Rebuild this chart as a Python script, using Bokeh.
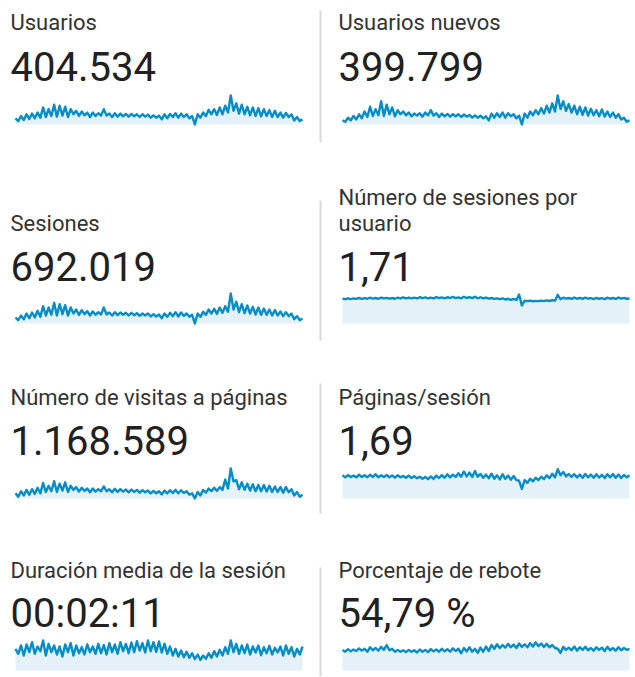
from bokeh.plotting import figure
from bokeh.models import Range1d
from bokeh.core.properties import value
from bokeh.embed import file_html
from bokeh.resources import INLINE

# ---------------- data ----------------
usuarios = [856, 720, 975, 771, 1060, 822, 1094, 856, 1145, 890, 1400, 924, 1315, 975, 1536, 941,
            1485, 992, 1434, 924, 1315, 1060, 1230, 975, 1196, 1009, 1145, 924, 1145, 975, 1111, 992,
            1315, 992, 1094, 924, 1111, 941, 1094, 958, 1077, 941, 1077, 958, 1060, 924, 1060, 941,
            1043, 890, 1009, 890, 992, 805, 1060, 856, 1077, 924, 1111, 890, 1094, 924, 1060, 856,
            975, 550, 1060, 890, 1145, 975, 1281, 1060, 1315, 1026, 1400, 1060, 1485, 1145, 1995, 1230,
            1604, 1094, 1536, 1060, 1434, 1009, 1400, 975, 1366, 958, 1315, 975, 1264, 924, 1230, 924,
            1145, 890, 1128, 924, 1060, 754, 924, 720, 805]

usuarios_nuevos = [746, 678, 884, 746, 970, 798, 1056, 850, 1194, 918, 1434, 970, 1314, 1004, 1710, 970,
                   1538, 1056, 1400, 953, 1262, 1056, 1194, 1004, 1142, 953, 1090, 987, 1108, 936, 1142, 1004,
                   1262, 987, 1108, 918, 1090, 953, 1073, 936, 1056, 953, 1056, 918, 1039, 936, 1022, 884,
                   1004, 884, 987, 850, 953, 746, 1090, 884, 1108, 918, 1142, 884, 1108, 953, 1056, 850,
                   987, 540, 1090, 884, 1194, 1004, 1262, 1056, 1366, 1090, 1486, 1142, 1606, 1194, 2000, 1314,
                   1710, 1228, 1572, 1142, 1486, 1056, 1434, 1022, 1400, 987, 1331, 1004, 1262, 953, 1297, 936,
                   1194, 918, 1142, 884, 1056, 798, 884, 678, 746]

sesiones = [1581, 1367, 1741, 1447, 1901, 1527, 1981, 1581, 2115, 1634, 2488, 1741, 2382, 1794, 2755, 1741,
            2649, 1848, 2569, 1741, 2382, 1901, 2221, 1794, 2168, 1848, 2088, 1741, 2061, 1794, 2008, 1821,
            2382, 1821, 1981, 1741, 2008, 1768, 1981, 1794, 1954, 1741, 1954, 1768, 1928, 1714, 1901, 1741,
            1901, 1661, 1848, 1661, 1821, 1527, 1901, 1634, 1954, 1687, 2008, 1661, 1981, 1714, 1901, 1634,
            1794, 1100, 1901, 1634, 2035, 1794, 2221, 1901, 2275, 1874, 2382, 1954, 2488, 2035, 3503, 2221,
            2836, 2008, 2649, 1928, 2542, 1901, 2435, 1821, 2382, 1794, 2302, 1794, 2221, 1741, 2168, 1741,
            2061, 1687, 2008, 1687, 1901, 1447, 1687, 1367, 1501]

sesiones_por_usuario = [1.66, 1.62, 1.68, 1.63, 1.67, 1.64, 1.70, 1.64, 1.69, 1.65, 1.72, 1.66, 1.70, 1.65,
                        1.73, 1.67, 1.71, 1.66, 1.70, 1.65, 1.72, 1.67, 1.74, 1.68, 1.73, 1.67, 1.72, 1.68,
                        1.75, 1.69, 1.74, 1.68, 1.73, 1.67, 1.76, 1.69, 1.74, 1.68, 1.75, 1.70, 1.77, 1.69,
                        1.74, 1.68, 1.78, 1.70, 1.76, 1.69, 1.78, 1.68, 1.75, 1.67, 1.73, 1.66, 1.70, 1.64,
                        1.68, 1.62, 1.67, 1.60, 1.65, 1.58, 1.64, 1.57, 1.93, 1.20, 1.52, 1.49, 1.52, 1.48,
                        1.51, 1.49, 1.53, 1.49, 1.54, 1.50, 1.56, 1.52, 1.91, 1.62, 1.72, 1.66, 1.70, 1.64,
                        1.73, 1.65, 1.71, 1.64, 1.72, 1.66, 1.70, 1.63, 1.71, 1.65, 1.69, 1.63, 1.72, 1.65,
                        1.70, 1.64, 1.73, 1.66, 1.71, 1.65, 1.67]

visitas_paginas = [2990, 2440, 3320, 2660, 3540, 2770, 3650, 2880, 3870, 2990, 4640, 3210, 4200, 3320, 4915, 3210,
                   4530, 3430, 4750, 3210, 4200, 3540, 3980, 3265, 3870, 3375, 3760, 3155, 3760, 3265, 3650, 3320,
                   4090, 3320, 3650, 3155, 3705, 3210, 3650, 3265, 3595, 3155, 3595, 3210, 3540, 3100, 3485, 3155,
                   3430, 2990, 3375, 2990, 3320, 2825, 3430, 2990, 3485, 3045, 3540, 2990, 3485, 3045, 3320, 2770,
                   2990, 2165, 3210, 2660, 3540, 3100, 3760, 3320, 3870, 3375, 3980, 3540, 5190, 3760, 6950, 4915,
                   5080, 3650, 4750, 3540, 4530, 3430, 4420, 3320, 4310, 3320, 4310, 3265, 4200, 3210, 4090, 3210,
                   3980, 3100, 3980, 3155, 3650, 2660, 3210, 2440, 2770]

paginas_sesion = [1.70, 1.55, 1.72, 1.58, 1.68, 1.55, 1.75, 1.57, 1.70, 1.56, 1.74, 1.58, 1.78, 1.55,
                  1.70, 1.57, 1.72, 1.56, 1.68, 1.54, 1.70, 1.55, 1.66, 1.52, 1.68, 1.50, 1.64, 1.48,
                  1.60, 1.45, 1.58, 1.42, 1.62, 1.44, 1.68, 1.50, 1.72, 1.52, 1.78, 1.55, 1.75, 1.58,
                  1.85, 1.60, 1.98, 1.62, 1.90, 1.58, 2.02, 1.60, 1.80, 1.52, 1.75, 1.48, 1.82, 1.45,
                  1.70, 1.40, 1.78, 1.44, 1.68, 1.38, 1.65, 1.35, 1.30, 0.70, 1.35, 1.15, 1.45, 1.25,
                  1.52, 1.35, 1.60, 1.42, 1.70, 1.50, 1.82, 1.55, 2.15, 1.70, 1.95, 1.62, 1.80, 1.58,
                  1.78, 1.55, 1.76, 1.52, 1.80, 1.55, 1.75, 1.52, 1.78, 1.54, 1.74, 1.50, 1.78, 1.55,
                  1.80, 1.52, 1.76, 1.50, 1.72, 1.56, 1.70]

duracion_media = [130, 100, 150, 90, 156, 110, 170, 100, 144, 116, 180, 90, 160, 110, 150, 96,
                  144, 84, 156, 110, 164, 90, 150, 104, 140, 96, 156, 110, 144, 100, 160, 104,
                  152, 96, 164, 110, 156, 100, 170, 116, 160, 104, 168, 110, 176, 120, 164, 108,
                  180, 116, 170, 112, 174, 108, 160, 100, 144, 90, 130, 84, 120, 80, 112, 76,
                  104, 68, 96, 64, 90, 70, 104, 76, 116, 84, 124, 90, 140, 100, 180, 110,
                  160, 100, 150, 104, 156, 96, 144, 108, 150, 92, 140, 104, 148, 96, 136, 108,
                  144, 90, 150, 100, 140, 84, 130, 96, 144]

porcentaje_rebote = [55, 50, 57, 51, 56, 52, 59, 53, 58, 50, 62, 54, 60, 53, 63, 55,
                     68, 54, 58, 50, 55, 50, 54, 49, 55, 50, 54, 48, 56, 50, 55, 49,
                     57, 51, 56, 50, 58, 51, 57, 50, 59, 52, 58, 46, 60, 51, 62, 50,
                     58, 47, 61, 50, 64, 52, 68, 58, 70, 60, 68, 61, 71, 62, 69, 60,
                     72, 63, 70, 62, 73, 64, 75, 65, 72, 63, 71, 62, 68, 60, 58, 47,
                     63, 55, 61, 54, 64, 53, 62, 55, 63, 54, 60, 53, 62, 55, 61, 52,
                     63, 54, 60, 53, 62, 54, 60, 55, 58]

titulos = ["Usuarios", "Usuarios nuevos", "Sesiones", "Número de sesiones por\nusuario",
           "Número de visitas a páginas", "Páginas/sesión", "Duración media de la sesión",
           "Porcentaje de rebote"]
totales = ["404.534", "399.799", "692.019", "1,71", "1.168.589", "1,69", "00:02:11", "54,79 %"]
series = [usuarios, usuarios_nuevos, sesiones, sesiones_por_usuario,
          visitas_paginas, paginas_sesion, duracion_media, porcentaje_rebote]
# value-axis floor/ceiling for the ratio metrics (None -> min/max of the series)
ejes = [None, None, None, (0, 2.0), None, (0, 2.2), (0, 180), (0, 80)]

# ---------------- layout (screen pixels inside the figure) ----------------
W, H = 634, 676
COL_TEXT_X = [10, 338]
COL_BOX_X = [(15, 302), (342, 629)]
ROW_TITLE_Y = [22, 223, 397, 570]
ROW_VALUE_Y = [66, 266, 440, 613]
ROW_BOX_Y = [(95, 124), (293, 323), (468, 498), (640, 670)]
LINE_H = 26
DIV_X = 320
DIVIDERS = [(10, 142), (200, 340), (383, 513), (567, 676)]

LINE_COLOR = "#058dc7"
FILL_COLOR = "#e4f1f9"
TITLE_COLOR = "#333333"
VALUE_COLOR = "#212121"
FONT = "Roboto"

p = figure(width=W, height=H, x_range=Range1d(0, W), y_range=Range1d(H, 0),
           output_backend="svg", toolbar_location=None,
           x_axis_location=None, y_axis_location=None,
           min_border=0, outline_line_color=None)
p.grid.visible = False
p.background_fill_color = "white"
p.border_fill_color = "white"

xr, yr = {}, {}
specs = []
for k, vals in enumerate(series):
    row, col = divmod(k, 2)
    x0, x1 = COL_BOX_X[col]
    ytop, ybot = ROW_BOX_Y[row]
    n = len(vals)
    if ejes[k] is None:
        lo, hi = min(vals), max(vals)
    else:
        lo, hi = ejes[k]
    kx = (n - 1) / (x1 - x0)
    xs = -x0 * kx
    m = (hi - lo) / (ybot - ytop)
    name = f"s{k}"
    xr[name] = Range1d(xs, xs + W * kx)
    yr[name] = Range1d(lo + (ybot - H) * m, lo + ybot * m)
    specs.append((name, list(range(n)), vals, lo))
p.extra_x_ranges = xr
p.extra_y_ranges = yr

for name, idx, vals, lo in specs:
    p.varea(x=idx, y1=[lo] * len(idx), y2=vals, fill_color=FILL_COLOR,
            x_range_name=name, y_range_name=name)
    p.line(idx, vals, line_color=LINE_COLOR, line_width=2.4, line_join="round",
           x_range_name=name, y_range_name=name)

# titles and totals
tx, ty, tt = [], [], []
vx, vy, vt = [], [], []
for k in range(len(titulos)):
    row, col = divmod(k, 2)
    lines = titulos[k].split("\n")
    base = ROW_TITLE_Y[row] - LINE_H * (len(lines) - 1)
    for j, ln in enumerate(lines):
        tx.append(COL_TEXT_X[col])
        ty.append(base + j * LINE_H)
        tt.append(ln)
    vx.append(COL_TEXT_X[col])
    vy.append(ROW_VALUE_Y[row])
    vt.append(totales[k])

p.text(x=tx, y=ty, text=tt, text_font=value(FONT), text_font_size="22px",
       text_color=TITLE_COLOR, text_baseline="alphabetic", text_align="left")
p.text(x=vx, y=vy, text=vt, text_font=value(FONT), text_font_size="40px",
       text_color=VALUE_COLOR, text_baseline="alphabetic", text_align="left")

p.segment(x0=[DIV_X] * 4, y0=[d[0] for d in DIVIDERS], x1=[DIV_X] * 4, y1=[d[1] for d in DIVIDERS],
          line_color="#d9d9d9", line_width=2)

open("out.html", "w").write(file_html(p, INLINE))
